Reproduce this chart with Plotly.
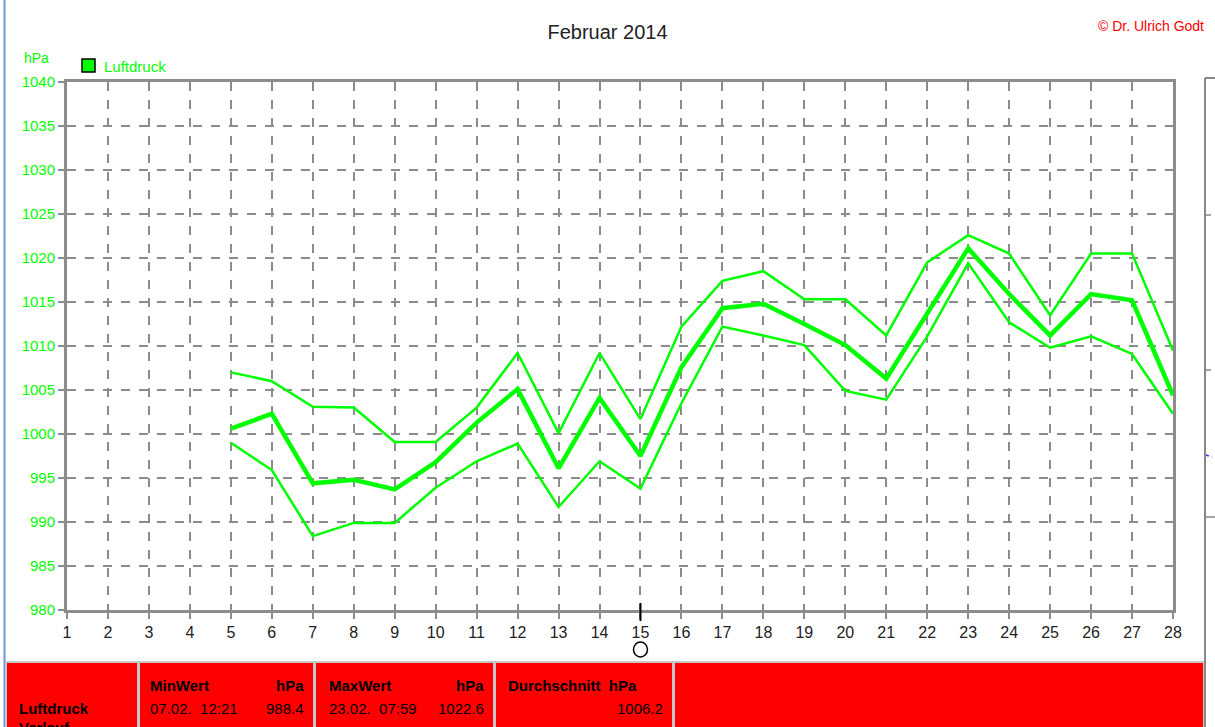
import plotly.graph_objects as go

days = list(range(5, 29))
p_max = [1007.0, 1006.0, 1003.1, 1003.0, 999.1, 999.1, 1003.0, 1009.2, 1000.1, 1009.2, 1001.7, 1012.2,
         1017.4, 1018.5, 1015.3, 1015.3, 1011.2, 1019.5, 1022.6, 1020.5, 1013.5, 1020.5, 1020.5, 1009.5]
p_mean = [1000.6, 1002.3, 994.4, 994.8, 993.7, 996.8, 1001.3, 1005.1, 996.1, 1004.1, 997.5, 1007.6,
          1014.3, 1014.8, 1012.5, 1010.1, 1006.3, 1013.6, 1021.1, 1015.9, 1011.2, 1015.9, 1015.2, 1004.4]
p_min = [999.0, 995.9, 988.4, 989.9, 989.9, 993.9, 996.9, 998.9, 991.7, 996.9, 993.8, 1003.5,
         1012.2, 1011.2, 1010.1, 1004.9, 1003.9, 1011.1, 1019.4, 1012.7, 1009.8, 1011.1, 1009.1, 1002.3]

x_ticks = list(range(1, 29))
y_ticks = list(range(980, 1045, 5))

title = "Februar 2014"
series_name = "Luftdruck"
stats_min = ("07.02.  12:21", "988.4")
stats_max = ("23.02.  07:59", "1022.6")
stats_avg = "1006.2"

W, H = 1215, 727
L, R, T, B = 67, 1173, 82, 610
GREEN = "#00ff00"
FONT = "Liberation Sans, Arial, sans-serif"


def px(xp):
    return (xp - L) / (R - L)


def py(yp):
    return (B - yp) / (B - T)


fig = go.Figure()
fig.add_trace(go.Scatter(x=days, y=p_max, mode="lines", line=dict(color=GREEN, width=2.5), showlegend=False))
fig.add_trace(go.Scatter(x=days, y=p_min, mode="lines", line=dict(color=GREEN, width=2.5), showlegend=False))
fig.add_trace(go.Scatter(x=days, y=p_mean, mode="lines", line=dict(color=GREEN, width=4.5), showlegend=False))

shapes = []
annotations = []

# legend
shapes.append(dict(type="rect", xref="paper", yref="paper", x0=px(82), x1=px(95), y0=py(72), y1=py(59),
                   fillcolor=GREEN, line=dict(color="black", width=1.5)))
annotations.append(dict(xref="paper", yref="paper", x=px(102), y=py(66), text=series_name, showarrow=False,
                        xanchor="left", yanchor="middle", font=dict(family=FONT, size=15, color=GREEN)))
annotations.append(dict(xref="paper", yref="paper", x=px(22), y=py(58), text="hPa", showarrow=False,
                        xanchor="left", yanchor="middle", font=dict(family=FONT, size=14, color=GREEN)))
annotations.append(dict(xref="paper", yref="paper", x=px(1206), y=py(26), text="© Dr. Ulrich Godt", showarrow=False,
                        xanchor="right", yanchor="middle", font=dict(family=FONT, size=14, color="red")))

# left blue border
shapes.append(dict(type="line", xref="paper", yref="paper", x0=px(4.5), x1=px(4.5), y0=py(0), y1=py(727),
                   line=dict(color="#6f96d8", width=2)))

# right partial chart frame
shapes.append(dict(type="line", xref="paper", yref="paper", x0=px(1205), x1=px(1205), y0=py(78), y1=py(727),
                   line=dict(color="#888888", width=2)))
shapes.append(dict(type="line", xref="paper", yref="paper", x0=px(1205), x1=px(1215), y0=py(78), y1=py(78),
                   line=dict(color="#888888", width=2)))
for yy, ln in [(215, 5), (370, 5), (517, 10)]:
    shapes.append(dict(type="line", xref="paper", yref="paper", x0=px(1206), x1=px(1206 + ln), y0=py(yy), y1=py(yy),
                       line=dict(color="#888888", width=1.5)))
shapes.append(dict(type="line", xref="paper", yref="paper", x0=px(1206), x1=px(1212), y0=py(455), y1=py(457),
                   line=dict(color="#3333ff", width=1.5, dash="dot")))

# full moon marker at day 15
shapes.append(dict(type="line", xref="x", yref="paper", x0=15, x1=15, y0=py(603), y1=py(621),
                   line=dict(color="black", width=2)))
shapes.append(dict(type="circle", xref="x", yref="paper", xsizemode="pixel", xanchor=15, x0=-7, x1=7,
                   y0=py(657), y1=py(642), line=dict(color="black", width=1.5)))

# red statistics table
cells = [(7, 137), (140, 313), (316, 493), (496, 672), (675, 1203)]
shapes.append(dict(type="rect", xref="paper", yref="paper", x0=px(6), x1=px(1204), y0=py(730), y1=py(661),
                   fillcolor="#c8c8c8", line=dict(width=0)))
for a, b in cells:
    shapes.append(dict(type="rect", xref="paper", yref="paper", x0=px(a), x1=px(b), y0=py(730), y1=py(663),
                       fillcolor="#ff0000", line=dict(width=0)))

bold = dict(family=FONT, size=15, color="black")
norm = dict(family=FONT, size=15, color="black")


def txt(x, y, s, anchor="left", font=norm):
    annotations.append(dict(xref="paper", yref="paper", x=px(x), y=py(y), text=s, showarrow=False,
                            xanchor=anchor, yanchor="middle", font=font))


txt(17, 708, "<b>" + series_name + "</b>", font=bold)
txt(17, 727, "<b>Verlauf</b>", font=bold)
txt(148, 685, "<b>MinWert</b>", font=bold)
txt(306, 685, "<b>hPa</b>", "right", bold)
txt(148, 708, stats_min[0])
txt(306, 708, stats_min[1], "right")
txt(327, 685, "<b>MaxWert</b>", font=bold)
txt(486, 685, "<b>hPa</b>", "right", bold)
txt(327, 708, stats_max[0])
txt(486, 708, stats_max[1], "right")
txt(506, 685, "<b>Durchschnitt  hPa</b>", font=bold)
txt(665, 708, stats_avg, "right")

fig.update_layout(
    width=W, height=H,
    margin=dict(l=L, r=W - R, t=T, b=H - B, pad=0),
    paper_bgcolor="white", plot_bgcolor="white",
    title=dict(text=title, x=0.5, xanchor="center", y=1 - 32 / H, yanchor="middle",
               font=dict(family=FONT, size=20, color="#222222")),
    showlegend=False,
    shapes=shapes, annotations=annotations,
    xaxis=dict(range=[1, 28], tickvals=x_ticks, ticktext=[str(v) for v in x_ticks],
               showgrid=True, gridcolor="#8c8c8c", griddash="dash", gridwidth=1.5,
               showline=True, linecolor="#8c8c8c", linewidth=3, mirror=True,
               ticks="outside", ticklen=6, tickcolor="#8c8c8c", tickwidth=1.5,
               tickfont=dict(family=FONT, size=16, color="#222222"), zeroline=False),
    yaxis=dict(range=[980, 1040], tickvals=y_ticks, ticktext=[str(v) for v in y_ticks],
               showgrid=True, gridcolor="#8c8c8c", griddash="dash", gridwidth=1.5,
               showline=True, linecolor="#8c8c8c", linewidth=3, mirror=True,
               ticks="outside", ticklen=6, tickcolor="#8c8c8c", tickwidth=1.5,
               tickfont=dict(family=FONT, size=15, color=GREEN), zeroline=False),
)

fig.write_html("out.html", config={"displayModeBar": False},
               post_script="document.body.style.margin='0px';document.body.style.overflow='hidden';")
